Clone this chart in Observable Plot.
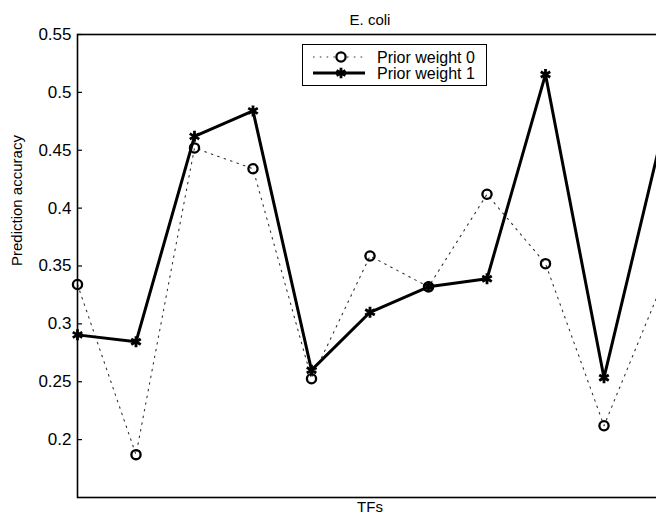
<!DOCTYPE html>
<html>
<head>
<meta charset="utf-8">
<script src="https://cdn.jsdelivr.net/npm/d3@7"></script>
<script src="https://cdn.jsdelivr.net/npm/@observablehq/plot@0.6"></script>
<style>
  html, body { margin: 0; padding: 0; background: #fff; overflow: hidden; }
  #wrap { position: relative; width: 656px; height: 524px; overflow: hidden; font-family: "Liberation Sans", Arial, sans-serif; }
  #wrap > svg { max-width: none !important; width: 670px; height: 524px; display: block; }
  #legend { position: absolute; left: 302px; top: 44px; width: 185px; height: 42px; border: 1px solid #000; background: #fff; box-sizing: border-box; }
  #legend .row { position: absolute; left: 0; height: 16px; display: flex; align-items: center; font-size: 16px; line-height: 15px; }
  #legend .row span { display: inline-block; height: 15px; line-height: 15px; overflow: visible; white-space: nowrap; }
  #legend svg { display: block; }
</style>
</head>
<body>
<div id="wrap"></div>
<script>
const tfIndex = [1, 2, 3, 4, 5, 6, 7, 8, 9, 10, 11];
const prior0 = [0.334, 0.187, 0.452, 0.434, 0.2526, 0.3586, 0.332, 0.412, 0.352, 0.212, 0.335];
const prior1 = [0.2905, 0.2845, 0.462, 0.484, 0.260, 0.310, 0.332, 0.339, 0.5155, 0.2535, 0.465];
const yTicks = [0.2, 0.25, 0.3, 0.35, 0.4, 0.45, 0.5, 0.55];
const seriesNames = ["Prior weight 0", "Prior weight 1"];
const titleText = "E. coli";
const xLabel = "TFs";
const yLabel = "Prediction accuracy";

const d0 = tfIndex.map((t, i) => ({t, v: prior0[i]}));
const d1 = tfIndex.map((t, i) => ({t, v: prior1[i]}));

const chart = Plot.plot({
  width: 670,
  height: 524,
  marginLeft: 77,
  marginRight: 8,
  marginTop: 34,
  marginBottom: 27,
  style: {fontFamily: "Liberation Sans, Arial, sans-serif", fontSize: "17px", color: "#000", background: "#fff", maxWidth: "none"},
  x: {domain: [1, 11], axis: null},
  y: {domain: [0.15, 0.55], axis: null},
  marks: [
    Plot.axisY(yTicks, {tickSize: -5, tickPadding: 11, label: null, tickFormat: d => String(+d.toFixed(2)), strokeWidth: 1.2, fontSize: 17}),
    Plot.line(d0, {x: "t", y: "v", stroke: "#333", strokeWidth: 1.1, strokeDasharray: "1.6,5.2"}),
    Plot.line(d1, {x: "t", y: "v", stroke: "#000", strokeWidth: 3}),
    Plot.dot(d0, {x: "t", y: "v", r: 4.6, stroke: "#000", strokeWidth: 2.3, fill: "none"}),
    Plot.dot(d1, {x: "t", y: "v", r: 5.2, symbol: "asterisk", stroke: "#000", strokeWidth: 2.8}),
    Plot.frame({stroke: "#000", strokeWidth: 1.6}),
    Plot.text([titleText], {frameAnchor: "top", dy: -20, text: d => d, fontSize: 15}),
    Plot.text([xLabel], {frameAnchor: "bottom", dy: 14, text: d => d, fontSize: 15}),
    Plot.text([yLabel], {frameAnchor: "left", dx: -60, rotate: -90, text: d => d, fontSize: 15})
  ]
});
const wrap = document.getElementById("wrap");
wrap.appendChild(chart);

// legend
const legend = document.createElement("div");
legend.id = "legend";
const rows = [
  {name: seriesNames[0], dash: "1.6,5.2", sw: 1.1, marker: "circle"},
  {name: seriesNames[1], dash: null, sw: 3, marker: "asterisk"}
];
rows.forEach((r, i) => {
  const row = document.createElement("div");
  row.className = "row";
  row.style.top = (i === 0 ? 4 : 20) + "px";
  const svg = d3.create("svg").attr("width", 72).attr("height", 16);
  const ln = svg.append("line").attr("x1", 10).attr("x2", 62).attr("y1", 8).attr("y2", 8)
    .attr("stroke", "#000").attr("stroke-width", r.sw);
  if (r.dash) ln.attr("stroke-dasharray", r.dash).attr("stroke", "#333");
  if (r.marker === "circle") {
    svg.append("circle").attr("cx", 38).attr("cy", 8).attr("r", 4.6).attr("fill", "#fff").attr("stroke", "#000").attr("stroke-width", 2.3);
  } else {
    svg.append("path").attr("transform", "translate(38,8)").attr("d", d3.symbol(d3.symbolAsterisk, 75)())
      .attr("stroke", "#000").attr("stroke-width", 2.8).attr("fill", "none");
  }
  row.appendChild(svg.node());
  const span = document.createElement("span");
  span.textContent = r.name;
  span.style.marginLeft = "2px";
  row.appendChild(span);
  legend.appendChild(row);
});
wrap.appendChild(legend);
</script>
</body>
</html>
